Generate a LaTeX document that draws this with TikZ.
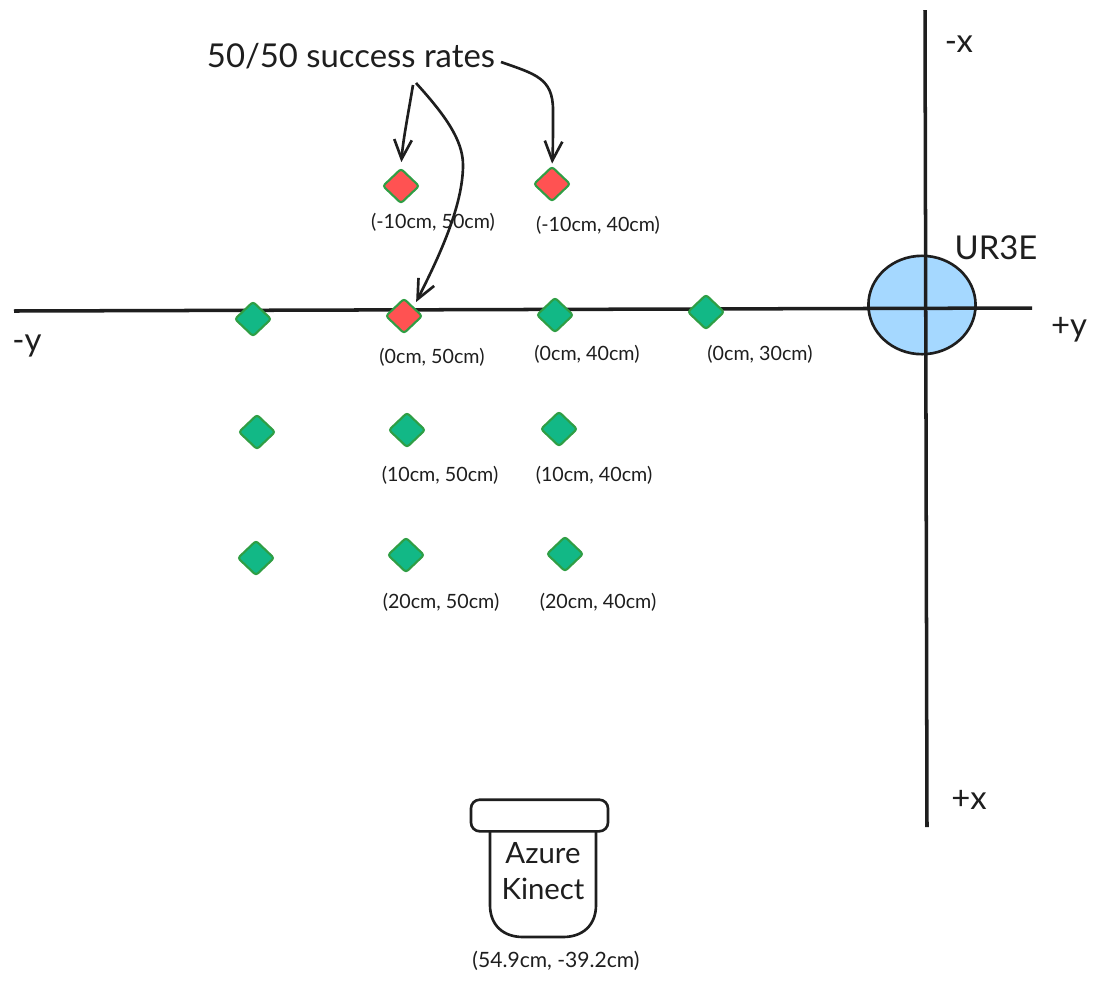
\documentclass[tikz,border=0pt]{standalone}
\usepackage{fontspec}
\setmainfont{Lato}
\usetikzlibrary{arrows.meta,shapes.geometric}
\definecolor{inkc}{HTML}{1E1E1E}
\definecolor{okc}{HTML}{12B886}
\definecolor{failc}{HTML}{FF5252}
\definecolor{edgec}{HTML}{2F9E44}
\definecolor{basec}{HTML}{A5D8FF}
\begin{document}
\begin{tikzpicture}[x=0.02cm, y=-0.02cm, color=inkc, >={Straight Barb[length=11pt,width=10pt,line width=1.5pt]},
	axis/.style={line width=2pt},
	ink/.style={line width=1.5pt},
	pt/.style={diamond,draw=edgec,line width=1.2pt,minimum width=21pt,minimum height=20pt,inner sep=0pt,rounded corners=1.5pt},
	ok/.style={pt,fill=okc},
	fail/.style={pt,fill=failc},
	coord/.style={font=\fontsize{11.2}{13}\selectfont,inner sep=0pt},
	big/.style={font=\fontsize{18.7}{22}\selectfont,inner sep=0pt}]
	\useasboundingbox (0,0) rectangle (1100,985);

	\node[ellipse,draw,ink,fill=basec,minimum width=61pt,minimum height=56pt,inner sep=0pt] (base) at (922,305) {};

	\coordinate (ymin) at (14,311);
	\coordinate (ymax) at (1032,308);
	\coordinate (xmin) at (925,10);
	\coordinate (xmax) at (927,827);
	\draw[axis] (ymin) -- (ymax);
	\draw[axis] (xmin) -- (xmax);

	\node[big] (lxmin) at (959,44) {-x};
	\node[big] (lxmax) at (969,800) {+x};
	\node[big] (lymin) at (27,346) {-y};
	\node[big] (lymax) at (1069,330) {+y};
	\node[big] (lbase) at (996,248) {UR3E};

	\node[fail] (n10y50) at (401,186) {};
	\node[fail] (n10y40) at (552,184) {};
	\node[ok] (p0y60) at (253,319) {};
	\node[fail] (p0y50) at (404,316) {};
	\node[ok] (p0y40) at (555,315) {};
	\node[ok] (p0y30) at (706,312) {};
	\node[ok] (p10y60) at (257,432) {};
	\node[ok] (p10y50) at (407,430) {};
	\node[ok] (p10y40) at (559,429) {};
	\node[ok] (p20y60) at (256,558) {};
	\node[ok] (p20y50) at (406,555) {};
	\node[ok] (p20y40) at (565,554) {};

	\node[coord] (ln10y50) at (433,222) {(-10cm, 50cm)};
	\node[coord] (ln10y40) at (598,225) {(-10cm, 40cm)};
	\node[coord] (lp0y50) at (432,357) {(0cm, 50cm)};
	\node[coord] (lp0y40) at (587,354) {(0cm, 40cm)};
	\node[coord] (lp0y30) at (760,354) {(0cm, 30cm)};
	\node[coord] (lp10y50) at (440,475) {(10cm, 50cm)};
	\node[coord] (lp10y40) at (594,475) {(10cm, 40cm)};
	\node[coord] (lp20y50) at (441,602) {(20cm, 50cm)};
	\node[coord] (lp20y40) at (598,602) {(20cm, 40cm)};

	\node[big] (rates) at (351,56) {50/50 success rates};
	\coordinate (fromA) at (413,85);
	\coordinate (fromB) at (416,83);
	\coordinate (fromC) at (501,62);
	\draw[->,ink,shorten >=3pt] (fromA) .. controls (408,115) and (403,140) .. (n10y50.north);
	\draw[->,ink,shorten >=3pt] (fromB) .. controls (445,115) and (463,140) .. (463,165) .. controls (463,205) and (440,255) .. (p0y50.north east);
	\draw[->,ink,shorten >=1pt] (fromC) .. controls (535,74) and (553,78) .. (553,110) .. controls (553,130) and (553,150) .. (n10y40.north);

	\node[rectangle,draw,ink,rounded corners=5pt,minimum width=78pt,minimum height=18pt,inner sep=0pt] (cam) at (539.5,815.5) {};
	\coordinate (bodyL) at (490,831);
	\coordinate (bodyR) at (596,831);
	\draw[ink] (bodyL) -- (490,905) .. controls (490,925) and (503,937) .. (523,937) -- (563,937) .. controls (583,937) and (596,925) .. (596,905) -- (bodyR);
	\node[coord,font=\fontsize{16.7}{18}\selectfont] (lazure) at (543,853) {Azure};
	\node[coord,font=\fontsize{16.7}{18}\selectfont] (lkinect) at (543,889) {Kinect};
	\node[coord,font=\fontsize{12}{14}\selectfont] (lcam) at (556,961) {(54.9cm, -39.2cm)};
\end{tikzpicture}
\end{document}
